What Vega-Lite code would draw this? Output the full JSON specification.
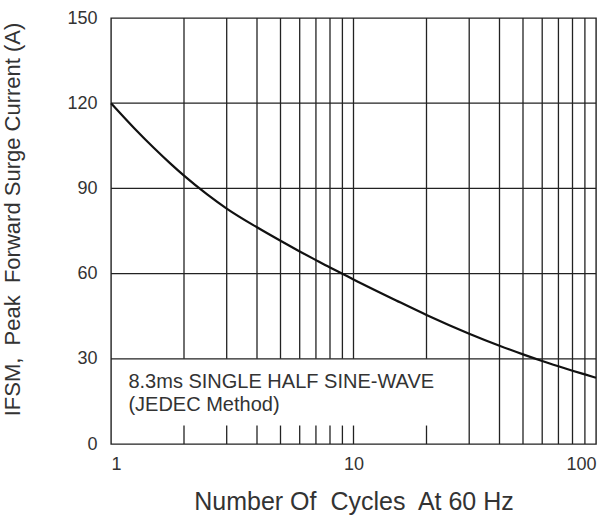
{
  "$schema": "https://vega.github.io/schema/vega-lite/v6.json",
  "autosize": "none",
  "width": 485,
  "height": 426,
  "padding": {"left": 111, "top": 18, "right": 19, "bottom": 75},
  "background": "white",
  "config": {
    "view": {"stroke": "#222", "strokeWidth": 1.4},
    "font": "Liberation Sans"
  },
  "datasets": {
    "vgrid": [
      {"x": 2, "y": 0, "y2": 6.5}, {"x": 2, "y": 30, "y2": 150},
      {"x": 3, "y": 0, "y2": 6.5}, {"x": 3, "y": 30, "y2": 150},
      {"x": 4, "y": 0, "y2": 6.5}, {"x": 4, "y": 30, "y2": 150},
      {"x": 5, "y": 0, "y2": 6.5}, {"x": 5, "y": 30, "y2": 150},
      {"x": 6, "y": 0, "y2": 6.5}, {"x": 6, "y": 30, "y2": 150},
      {"x": 7, "y": 0, "y2": 6.5}, {"x": 7, "y": 30, "y2": 150},
      {"x": 8, "y": 0, "y2": 6.5}, {"x": 8, "y": 30, "y2": 150},
      {"x": 9, "y": 0, "y2": 6.5}, {"x": 9, "y": 30, "y2": 150},
      {"x": 10, "y": 0, "y2": 6.5}, {"x": 10, "y": 30, "y2": 150},
      {"x": 20, "y": 0, "y2": 6.5}, {"x": 20, "y": 30, "y2": 150},
      {"x": 30, "y": 0, "y2": 150},
      {"x": 40, "y": 0, "y2": 150},
      {"x": 50, "y": 0, "y2": 150},
      {"x": 60, "y": 0, "y2": 150},
      {"x": 70, "y": 0, "y2": 150},
      {"x": 80, "y": 0, "y2": 150},
      {"x": 90, "y": 0, "y2": 150}
    ],
    "hgrid": [{"y": 30}, {"y": 60}, {"y": 90}, {"y": 120}],
    "curve": [
      {"cycles": 1, "current": 120},
      {"cycles": 1.25, "current": 111.1},
      {"cycles": 1.5, "current": 104.3},
      {"cycles": 1.75, "current": 98.9},
      {"cycles": 2, "current": 94.5},
      {"cycles": 2.5, "current": 87.8},
      {"cycles": 3, "current": 82.9},
      {"cycles": 4, "current": 76.3},
      {"cycles": 5, "current": 71.55},
      {"cycles": 6, "current": 67.8},
      {"cycles": 7, "current": 64.75},
      {"cycles": 8, "current": 62.15},
      {"cycles": 9, "current": 59.95},
      {"cycles": 10, "current": 57.95},
      {"cycles": 15, "current": 50.55},
      {"cycles": 20, "current": 45.45},
      {"cycles": 30, "current": 38.85},
      {"cycles": 40, "current": 34.6},
      {"cycles": 50, "current": 31.55},
      {"cycles": 60, "current": 29.2},
      {"cycles": 70, "current": 27.35},
      {"cycles": 80, "current": 25.8},
      {"cycles": 90, "current": 24.5},
      {"cycles": 100, "current": 23.35}
    ],
    "notes": [
      {"x": 1.18, "y": 21.8, "label": "8.3ms SINGLE HALF SINE-WAVE"},
      {"x": 1.18, "y": 13.7, "label": "(JEDEC Method)"}
    ]
  },
  "layer": [
    {
      "data": {"name": "vgrid"},
      "mark": {"type": "rule", "color": "#222", "strokeWidth": 1.3},
      "encoding": {
        "x": {
          "field": "x", "type": "quantitative",
          "scale": {"type": "log", "domain": [1, 100], "nice": false},
          "axis": {
            "values": [1, 10, 100], "format": "d", "grid": false, "ticks": false, "domain": false,
            "labelFontSize": 18, "labelColor": "#333", "labelPadding": 11,
            "labelFont": "Liberation Sans",
            "title": "Number Of\u00a0 Cycles\u00a0 At 60 Hz", "titleFontSize": 25, "titleFontWeight": "normal",
            "titleColor": "#333", "titlePadding": 16, "titleFont": "Liberation Sans"
          }
        },
        "y": {
          "field": "y", "type": "quantitative",
          "scale": {"domain": [0, 150], "nice": false},
          "axis": {
            "values": [0, 30, 60, 90, 120, 150], "grid": false, "ticks": false, "domain": false,
            "labelFontSize": 18, "labelColor": "#333", "labelPadding": 14,
            "labelFont": "Liberation Sans",
            "title": "IFSM,\u00a0 Peak\u00a0 Forward Surge Current (A)", "titleFontSize": 22, "titleFontWeight": "normal",
            "titleColor": "#333", "titlePadding": 42, "titleFont": "Liberation Sans", "titleY": 201
          }
        },
        "y2": {"field": "y2"}
      }
    },
    {
      "data": {"name": "hgrid"},
      "mark": {"type": "rule", "color": "#222", "strokeWidth": 1.3},
      "encoding": {
        "y": {"field": "y", "type": "quantitative"}
      }
    },
    {
      "data": {"name": "curve"},
      "mark": {"type": "line", "color": "#111", "strokeWidth": 2.2, "interpolate": "monotone"},
      "encoding": {
        "x": {"field": "cycles", "type": "quantitative"},
        "y": {"field": "current", "type": "quantitative"}
      }
    },
    {
      "data": {"name": "notes"},
      "mark": {"type": "text", "align": "left", "baseline": "middle", "fontSize": 20, "color": "#333", "font": "Liberation Sans"},
      "encoding": {
        "x": {"field": "x", "type": "quantitative"},
        "y": {"field": "y", "type": "quantitative"},
        "text": {"field": "label"}
      }
    }
  ]
}
